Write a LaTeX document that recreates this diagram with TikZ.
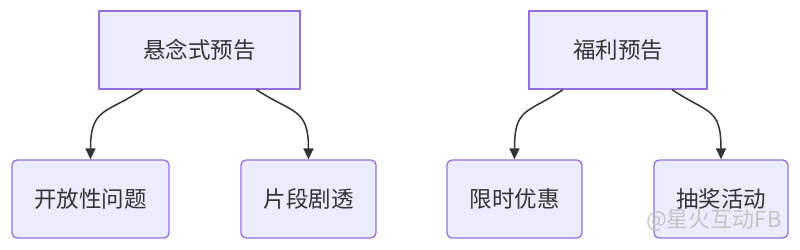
\documentclass[tikz,border=0pt]{standalone}
\usepackage{fontspec}
\setmainfont{Noto Sans CJK SC}
\usepackage{xcolor}
\usetikzlibrary{arrows.meta,calc}
\definecolor{ink}{HTML}{333333}
\definecolor{nodefill}{HTML}{ECECFF}
\definecolor{nodeline}{HTML}{9370DB}
\definecolor{markgray}{HTML}{C4C4C4}
\tikzset{
  font=\fontsize{22.5}{26}\selectfont,
  >={Triangle[length=11pt,width=10pt]},
  edge/.style={draw=ink, line width=1.5pt, ->},
  rootbox/.style={draw=nodeline, fill=nodefill, line width=1.3pt,
    text=ink, minimum height=78pt, inner sep=0pt},
  leafbox/.style={rootbox, rounded corners=5pt},
  watermark/.style={text=markgray, font=\fontsize{22}{26}\selectfont}
}
\begin{document}
\begin{tikzpicture}[x=1pt,y=1pt]
  \useasboundingbox[fill=white] (0,0) rectangle (800,-249);

  % -------------------------------------------------------------------
  % Left tree.
  \node[rootbox, minimum width=201pt] (suspense) at (199.5,-50) {悬念式预告};
  \node[leafbox, minimum width=157pt] (openQ) at (90.5,-199) {开放性问题};
  \node[leafbox, minimum width=135pt] (spoiler) at (308.5,-199) {片段剧透};
  \draw[edge] ($(suspense.south)+(-57,0)$) .. controls +(-36,-24) and +(0,52) .. (openQ.north);
  \draw[edge] ($(suspense.south)+(57,0)$) .. controls +(36,-24) and +(0,52) .. (spoiler.north);

  % -------------------------------------------------------------------
  % Right tree.
  \node[rootbox, minimum width=178pt] (welfare) at (618,-50) {福利预告};
  \node[leafbox, minimum width=135pt] (flashSale) at (514.5,-199) {限时优惠};
  \node[leafbox, minimum width=134pt] (lottery) at (721,-199) {抽奖活动};
  \draw[edge] ($(welfare.south)+(-55,0)$) .. controls +(-36,-24) and +(0,52) .. (flashSale.north);
  \draw[edge] ($(welfare.south)+(54,0)$) .. controls +(36,-24) and +(0,52) .. (lottery.north);

  \node[watermark, anchor=east] (mark) at (785,-220) {@星火互动FB};
\end{tikzpicture}
\end{document}
